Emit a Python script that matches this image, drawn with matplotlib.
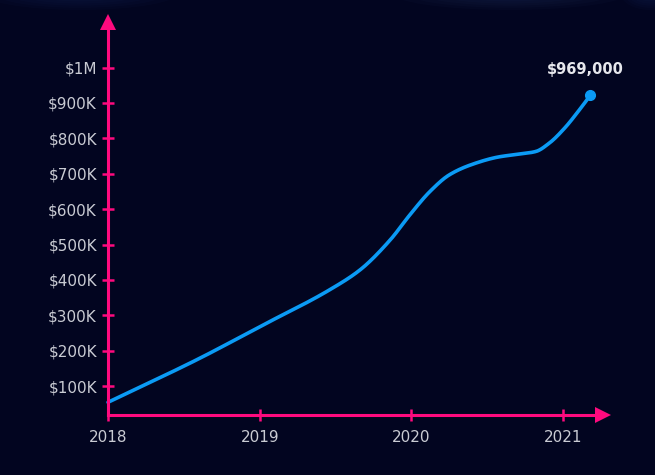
import numpy as np
import matplotlib
matplotlib.use("Agg")
import matplotlib.pyplot as plt
from matplotlib.patches import Ellipse

# ---- data ----
years = [2018.0, 2018.61, 2019.0, 2019.46, 2019.66, 2019.86, 2019.99, 2020.12,
         2020.25, 2020.39, 2020.58, 2020.72, 2020.82, 2020.91, 2021.01, 2021.11, 2021.18]
values = [54500, 180000, 268000, 372000, 428000, 513000, 584000, 649000,
          697000, 725000, 748000, 756000, 763000, 787000, 829000, 882000, 922000]
end_label = "$969,000"
ytick_vals = [100000, 200000, 300000, 400000, 500000, 600000, 700000, 800000, 900000, 1000000]
ytick_labels = ["$100K", "$200K", "$300K", "$400K", "$500K", "$600K", "$700K", "$800K", "$900K", "$1M"]
xtick_vals = [2018, 2019, 2020, 2021]
xtick_labels = ["2018", "2019", "2020", "2021"]

BG = "#020520"
PINK = "#ff0a7e"
BLUE = "#0b9bf5"
TXT = "#c9cbd3"

plt.rcParams["font.family"] = ["DejaVu Sans"]


def monotone_cubic(x, y, n=600):
    x = np.asarray(x, float); y = np.asarray(y, float)
    h = np.diff(x); d = np.diff(y) / h
    m = np.zeros_like(y)
    m[0] = d[0]; m[-1] = d[-1]
    for i in range(1, len(x) - 1):
        if d[i - 1] * d[i] <= 0:
            m[i] = 0
        else:
            w1 = 2 * h[i] + h[i - 1]; w2 = h[i] + 2 * h[i - 1]
            m[i] = (w1 + w2) / (w1 / d[i - 1] + w2 / d[i])
    xs = np.linspace(x[0], x[-1], n)
    idx = np.clip(np.searchsorted(x, xs) - 1, 0, len(x) - 2)
    t = (xs - x[idx]) / h[idx]
    h00 = 2 * t**3 - 3 * t**2 + 1; h10 = t**3 - 2 * t**2 + t
    h01 = -2 * t**3 + 3 * t**2; h11 = t**3 - t**2
    ys = h00 * y[idx] + h10 * h[idx] * m[idx] + h01 * y[idx + 1] + h11 * h[idx] * m[idx + 1]
    return xs, ys


fig = plt.figure(figsize=(6.55, 4.75), dpi=100, facecolor=BG)

# subtle glows along the top edge
bgax = fig.add_axes([0, 0, 1, 1])
bgax.set_xlim(0, 655); bgax.set_ylim(475, 0); bgax.axis("off")
for cx, w, a in [(80, 200, 0.10), (510, 240, 0.12), (650, 60, 0.10)]:
    for k in range(6):
        bgax.add_patch(Ellipse((cx, -8), w * (1 - k * 0.12), 36 * (1 - k * 0.12),
                               color="#3a5a9a", alpha=a / 3, lw=0))

ax = fig.add_axes([108 / 655, 60 / 475, 495 / 655, 393 / 475])
ax.set_facecolor("none")
ax.set_xlim(2018, 2018 + 495 / 151.7)
ax.set_ylim(18600, 18600 + 393 / 35.4 * 100000)

for s in ["top", "right"]:
    ax.spines[s].set_visible(False)
for s in ["left", "bottom"]:
    ax.spines[s].set_color(PINK)
    ax.spines[s].set_linewidth(2.2)

# arrow heads
ax.plot([1], [0], marker=">", transform=ax.transAxes, clip_on=False,
        color=PINK, markersize=11, markeredgewidth=0)
ax.plot([0], [1], marker="^", transform=ax.transAxes, clip_on=False,
        color=PINK, markersize=11, markeredgewidth=0)

ax.set_yticks(ytick_vals, ytick_labels)
ax.set_xticks(xtick_vals, xtick_labels)
ax.tick_params(axis="both", direction="inout", length=8, width=1.8, color=PINK,
               labelcolor=TXT, labelsize=11)
ax.tick_params(axis="y", pad=4)
ax.tick_params(axis="x", pad=7)

xs, ys = monotone_cubic(years, values)
ax.plot(xs, ys, color=BLUE, lw=2.6, solid_capstyle="round", clip_on=False)
ax.plot([years[-1]], [values[-1]], "o", color=BLUE, markersize=7, clip_on=False)
ax.annotate(end_label, (years[-1], values[-1]), xytext=(-4, 13), textcoords="offset points",
            ha="center", va="bottom", color="#e6e7ec", fontsize=10.5, fontweight="bold")

fig.savefig("out.png", dpi=100, facecolor=BG)
